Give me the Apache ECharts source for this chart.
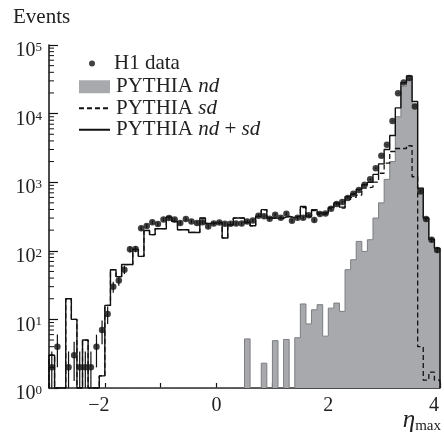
<!DOCTYPE html>
<html><head><meta charset="utf-8">
<script src="https://cdn.jsdelivr.net/npm/echarts@6/dist/echarts.min.js"></script>
<style>html,body{margin:0;padding:0;background:#fff}#c{width:444px;height:439px}</style>
</head><body><div id="c"></div>
<script>
// ---- binning (eta_max), 70 bins of width 0.1 from -3 to 4 ----
const etaMin = -3;
const binWidth = 0.1;

// ---- H1 data (events per bin) ----
const h1Data = [2,4,0,2,3,2,2,2,4,7,
  12,30,37,53,105,106,213,230,260,245,
  285,300,285,255,290,267,255,260,227,250,
  258,248,248,250,250,268,277,325,318,294,
  336,303,347,274,303,303,329,280,343,350,
  410,480,515,590,680,770,920,1100,1600,2430,
  3520,7800,19800,28500,33000,12700,734,290,145,103];

// ---- PYTHIA nd (non-diffractive) ----
const pythiaNd = [0,0,0,0,0,0,0,0,0,0,
  0,0,0,0,0,0,0,0,0,0,
  0,0,0,0,0,0,0,0,0,0,
  0,0,0,0,0,5.2,0,0,2.3,0,
  4.9,0,5.1,0,5.4,16.8,8.6,13.8,16.4,5.7,
  14.6,17.3,13.1,53,74,137,98,145,300,500,
  1100,2000,9000,25000,32000,13800,816,299,146,108];

// ---- PYTHIA sd (single diffractive) ----
const pythiaSd = [3,0,0,20,10,0,5,0,0,1.5,
  16,53,42,63,63,105,83,198,172,210,
  210,310,268,203,203,185,185,300,250,255,
  258,154,240,300,300,255,232,318,396,300,
  295,300,315,305,315,425,312,384,339,350,
  415,480,420,560,600,650,820,850,1000,1350,
  1900,2800,3100,3100,3400,1200,4,1.3,1.7,1.3];

// ---- axis tick labels ----
const xTickValues = [-2, 0, 2, 4];
const xTickLabels = ['\u22122', '0', '2', '4'];
const yTickExponents = [0, 1, 2, 3, 4, 5];

const pythiaTotal = pythiaNd.map((v, i) => v + pythiaSd[i]);

function stepPoints(vals) {
  const pts = [[etaMin, 1]];
  vals.forEach((v, i) => {
    const lo = etaMin + i * binWidth, hi = lo + binWidth;
    const y = v > 1 ? v : 1;
    pts.push([lo, y], [hi, y]);
  });
  pts.push([etaMin + vals.length * binWidth, 1]);
  return pts;
}
const dataPts = [];
h1Data.forEach((v, i) => { if (v > 0) dataPts.push([etaMin + (i + 0.5) * binWidth, v]); });

const minorTickVals = [];
for (let e = 0; e < 5; e++) for (let m = 2; m <= 9; m++) minorTickVals.push([etaMin, m * Math.pow(10, e)]);

const SERIF = 'Liberation Serif';
const hidden = {color: 'rgba(0,0,0,0)', borderColor: 'rgba(0,0,0,0)', borderWidth: 0};
const chart = echarts.init(document.getElementById('c'), null, {renderer: 'canvas'});
chart.setOption({
  animation: false,
  backgroundColor: '#fff',
  grid: {left: 49, right: 4, top: 45, bottom: 51, containLabel: false},
  xAxis: {
    type: 'value', min: -3, max: 4, interval: 1,
    axisLine: {onZero: false, lineStyle: {color: '#111', width: 1.5}},
    axisTick: {inside: true, length: 5, lineStyle: {color: '#111', width: 1.2}},
    splitLine: {show: false},
    axisLabel: {
      margin: 8, color: '#222', fontFamily: SERIF, fontSize: 20,
      formatter: v => { const k = xTickValues.indexOf(v); if (k < 0) return '';
        if (v === -2 || v === 4) return '{sh|' + xTickLabels[k] + '}';
        return xTickLabels[k]; },
      rich: {sh: {fontFamily: SERIF, fontSize: 20, color: '#222', padding: [0, 12, 0, 0]}}
    }
  },
  yAxis: {
    type: 'log', logBase: 10, min: 1, max: 100000, splitNumber: 5,
    axisLine: {onZero: false, lineStyle: {color: '#111', width: 1.5}},
    axisTick: {inside: true, length: 9, lineStyle: {color: '#111', width: 1.2}},
    minorTick: {show: false},
    splitLine: {show: false},
    axisLabel: {
      margin: 7, padding: [12, 0, 0, 0],
      formatter: v => { const e = Math.round(Math.log10(v));
        return (Math.abs(Math.log10(v) - e) < 1e-6 && yTickExponents.indexOf(e) >= 0) ? '{b|10}{s|' + e + '}' : ''; },
      rich: {
        b: {fontFamily: SERIF, fontSize: 20, lineHeight: 20, color: '#222', verticalAlign: 'bottom'},
        s: {fontFamily: SERIF, fontSize: 13, lineHeight: 13, color: '#222', verticalAlign: 'top'}
      }
    }
  },
  legend: [
    {
      data: ['H1 data'], left: 84, top: 48, orient: 'vertical',
      itemWidth: 6, itemHeight: 6,
      textStyle: {fontFamily: SERIF, fontSize: 21, color: '#222', padding: [0, 0, 0, 14]}
    },
    {
      data: [
        {name: 'PYTHIA nd', icon: 'rect', itemStyle: {color: '#a7a9ac', borderWidth: 0}},
        {name: 'PYTHIA sd', itemStyle: hidden},
        {name: 'PYTHIA nd + sd', itemStyle: hidden}
      ],
      left: 73, top: 71, orient: 'vertical', itemWidth: 31, itemHeight: 13, itemGap: 0,
      formatter: n => n.replace(/nd/g, '{i|nd}').replace(/sd/g, '{i|sd}'),
      textStyle: {fontFamily: SERIF, fontSize: 21, lineHeight: 21.5, color: '#222', padding: [0, 0, 0, 1],
        rich: {i: {fontFamily: SERIF, fontSize: 21, fontStyle: 'italic', color: '#222'}}}
    }
  ],
  graphic: [
    {type: 'text', left: 13, top: 7, style: {text: 'Events', fontFamily: SERIF, fontSize: 21, fill: '#222'}},
    {type: 'text', right: 3, top: 408, style: {
      text: '{e|\u03b7}{m|max}',
      rich: {e: {fontFamily: SERIF, fontSize: 25, fontStyle: 'italic', fill: '#222', verticalAlign: 'top', lineHeight: 22},
             m: {fontFamily: SERIF, fontSize: 15, fill: '#222', verticalAlign: 'bottom', lineHeight: 26}}}}
  ],
  series: [
    {
      name: 'PYTHIA nd', type: 'line', data: stepPoints(pythiaNd), symbol: 'none', z: 1,
      color: '#a7a9ac',
      lineStyle: {color: '#7c7e81', width: 1},
      areaStyle: {color: '#a7a9ac', opacity: 1, origin: 'start'}
    },
    {
      name: 'PYTHIA sd', type: 'line', data: stepPoints(pythiaSd), symbol: 'none', z: 2,
      color: '#111',
      lineStyle: {color: '#111', width: 1.3, type: [5, 3]}
    },
    {
      name: 'PYTHIA nd + sd', type: 'line', data: stepPoints(pythiaTotal), symbol: 'none', z: 3,
      color: '#111',
      lineStyle: {color: '#111', width: 1.4}
    },
    {
      type: 'custom', z: 4, data: dataPts, clip: false,
      renderItem: (params, api) => {
        const x = api.value(0), v = api.value(1), e = Math.sqrt(v);
        const t = api.coord([x, v + e]), b = api.coord([x, Math.max(v - e, 1)]);
        return {type: 'line', shape: {x1: t[0], y1: t[1], x2: b[0], y2: b[1]}, style: {stroke: '#111', lineWidth: 1.2}};
      }
    },
    {
      name: 'H1 data', type: 'scatter', data: dataPts, symbol: 'circle', symbolSize: 6.5, z: 5,
      itemStyle: {color: '#111'}
    },
    {
      type: 'custom', z: 6, data: minorTickVals, clip: false, silent: true,
      renderItem: (params, api) => {
        const p = api.coord([api.value(0), api.value(1)]);
        return {type: 'line', shape: {x1: p[0], y1: p[1], x2: p[0] + 5, y2: p[1]}, style: {stroke: '#111', lineWidth: 1}};
      }
    }
  ]
});
</script></body></html>
